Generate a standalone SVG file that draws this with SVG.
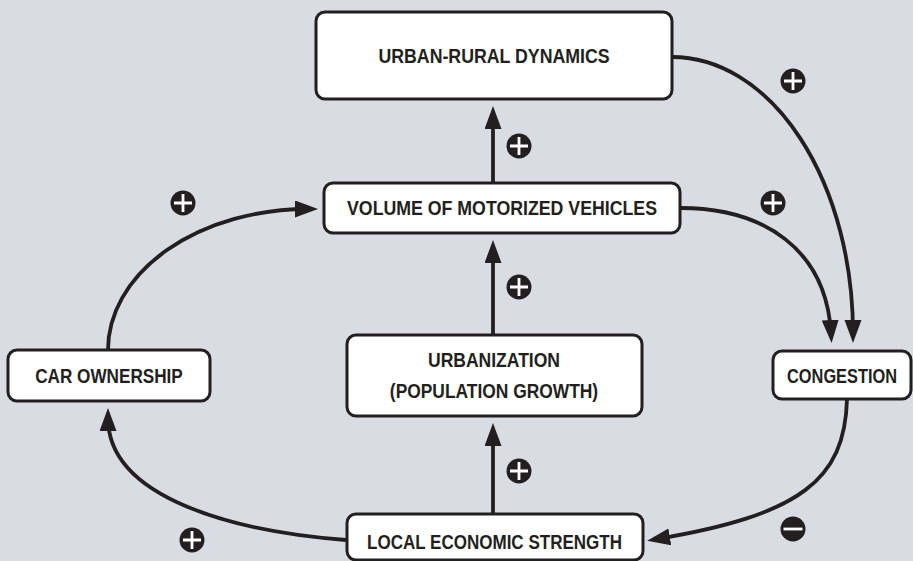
<svg xmlns="http://www.w3.org/2000/svg" width="913" height="561" viewBox="0 0 913 561">
<style>
.box{fill:#ffffff;stroke:#231f20;stroke-width:3}
.lbl{font-family:"Liberation Sans",Arial,sans-serif;font-weight:bold;font-size:21px;fill:#231f20;text-anchor:middle}
.link{fill:none;stroke:#231f20;stroke-width:3.8}
.sgn{fill:#231f20}
.bar{stroke:#ffffff;stroke-width:2.8}
</style>
<defs>
<marker id="ah" markerUnits="userSpaceOnUse" markerWidth="24" markerHeight="18" viewBox="0 0 24 18" refX="13" refY="8.5" orient="auto">
<path d="M0,0 L23,8.5 L0,17 z" fill="#231f20"/>
</marker>
<g id="plus"><circle r="12.5" class="sgn"/><path d="M-9,0 H9 M0,-9 V9" class="bar"/></g>
<g id="minus"><circle r="12.5" class="sgn"/><path d="M-9.5,0 H9.5" class="bar"/></g>
</defs>
<rect width="913" height="561" fill="#d9dce3"/>
<g id="connectors">
<path class="link" marker-end="url(#ah)" d="M493,183 L493,116"/>
<path class="link" marker-end="url(#ah)" d="M493,335 L493,250"/>
<path class="link" marker-end="url(#ah)" d="M493,514 L493,433"/>
<path class="link" marker-end="url(#ah)" d="M108,350 A200,141 0 0 1 308,209"/>
<path class="link" marker-end="url(#ah)" d="M346,540 C240,532 108,500 108,418"/>
<path class="link" marker-end="url(#ah)" d="M672,57 A181,276 0 0 1 853,333"/>
<path class="link" marker-end="url(#ah)" d="M680,208 C765,208 826,250 831,333"/>
<path class="link" marker-end="url(#ah)" d="M847,399 C845,480 800,515 657,539"/>
</g>
<g id="signs">
<use href="#plus" x="519" y="146"/>
<use href="#plus" x="519" y="287"/>
<use href="#plus" x="519" y="471"/>
<use href="#plus" x="183" y="203"/>
<use href="#plus" x="192" y="540"/>
<use href="#plus" x="793" y="81"/>
<use href="#plus" x="773" y="203"/>
<use href="#minus" x="793" y="529"/>
</g>
<g id="urban-rural">
<rect class="box" x="316" y="12" width="356" height="87" rx="9"/>
<text class="lbl" transform="translate(494,63) scale(0.82,1)" textLength="282" lengthAdjust="spacingAndGlyphs">URBAN-RURAL DYNAMICS</text>
</g>
<g id="volume">
<rect class="box" x="324" y="183" width="356" height="50" rx="9"/>
<text class="lbl" transform="translate(502,215) scale(0.82,1)" textLength="378" lengthAdjust="spacingAndGlyphs">VOLUME OF MOTORIZED VEHICLES</text>
</g>
<g id="urbanization">
<rect class="box" x="347" y="335" width="295" height="81" rx="9"/>
<text class="lbl" transform="translate(494,367) scale(0.82,1)" textLength="161" lengthAdjust="spacingAndGlyphs">URBANIZATION</text>
<text class="lbl" transform="translate(494,398) scale(0.82,1)" textLength="254" lengthAdjust="spacingAndGlyphs">(POPULATION GROWTH)</text>
</g>
<g id="car-ownership">
<rect class="box" x="8" y="350" width="202" height="51" rx="9"/>
<text class="lbl" transform="translate(109,383) scale(0.82,1)" textLength="180" lengthAdjust="spacingAndGlyphs">CAR OWNERSHIP</text>
</g>
<g id="congestion">
<rect class="box" x="773" y="351" width="138" height="48" rx="9"/>
<text class="lbl" transform="translate(842,383) scale(0.82,1)" textLength="134" lengthAdjust="spacingAndGlyphs">CONGESTION</text>
</g>
<g id="local-economic">
<rect class="box" x="347" y="514" width="296" height="46" rx="9"/>
<text class="lbl" transform="translate(494.5,549) scale(0.82,1)" textLength="311" lengthAdjust="spacingAndGlyphs">LOCAL ECONOMIC STRENGTH</text>
</g>
</svg>
